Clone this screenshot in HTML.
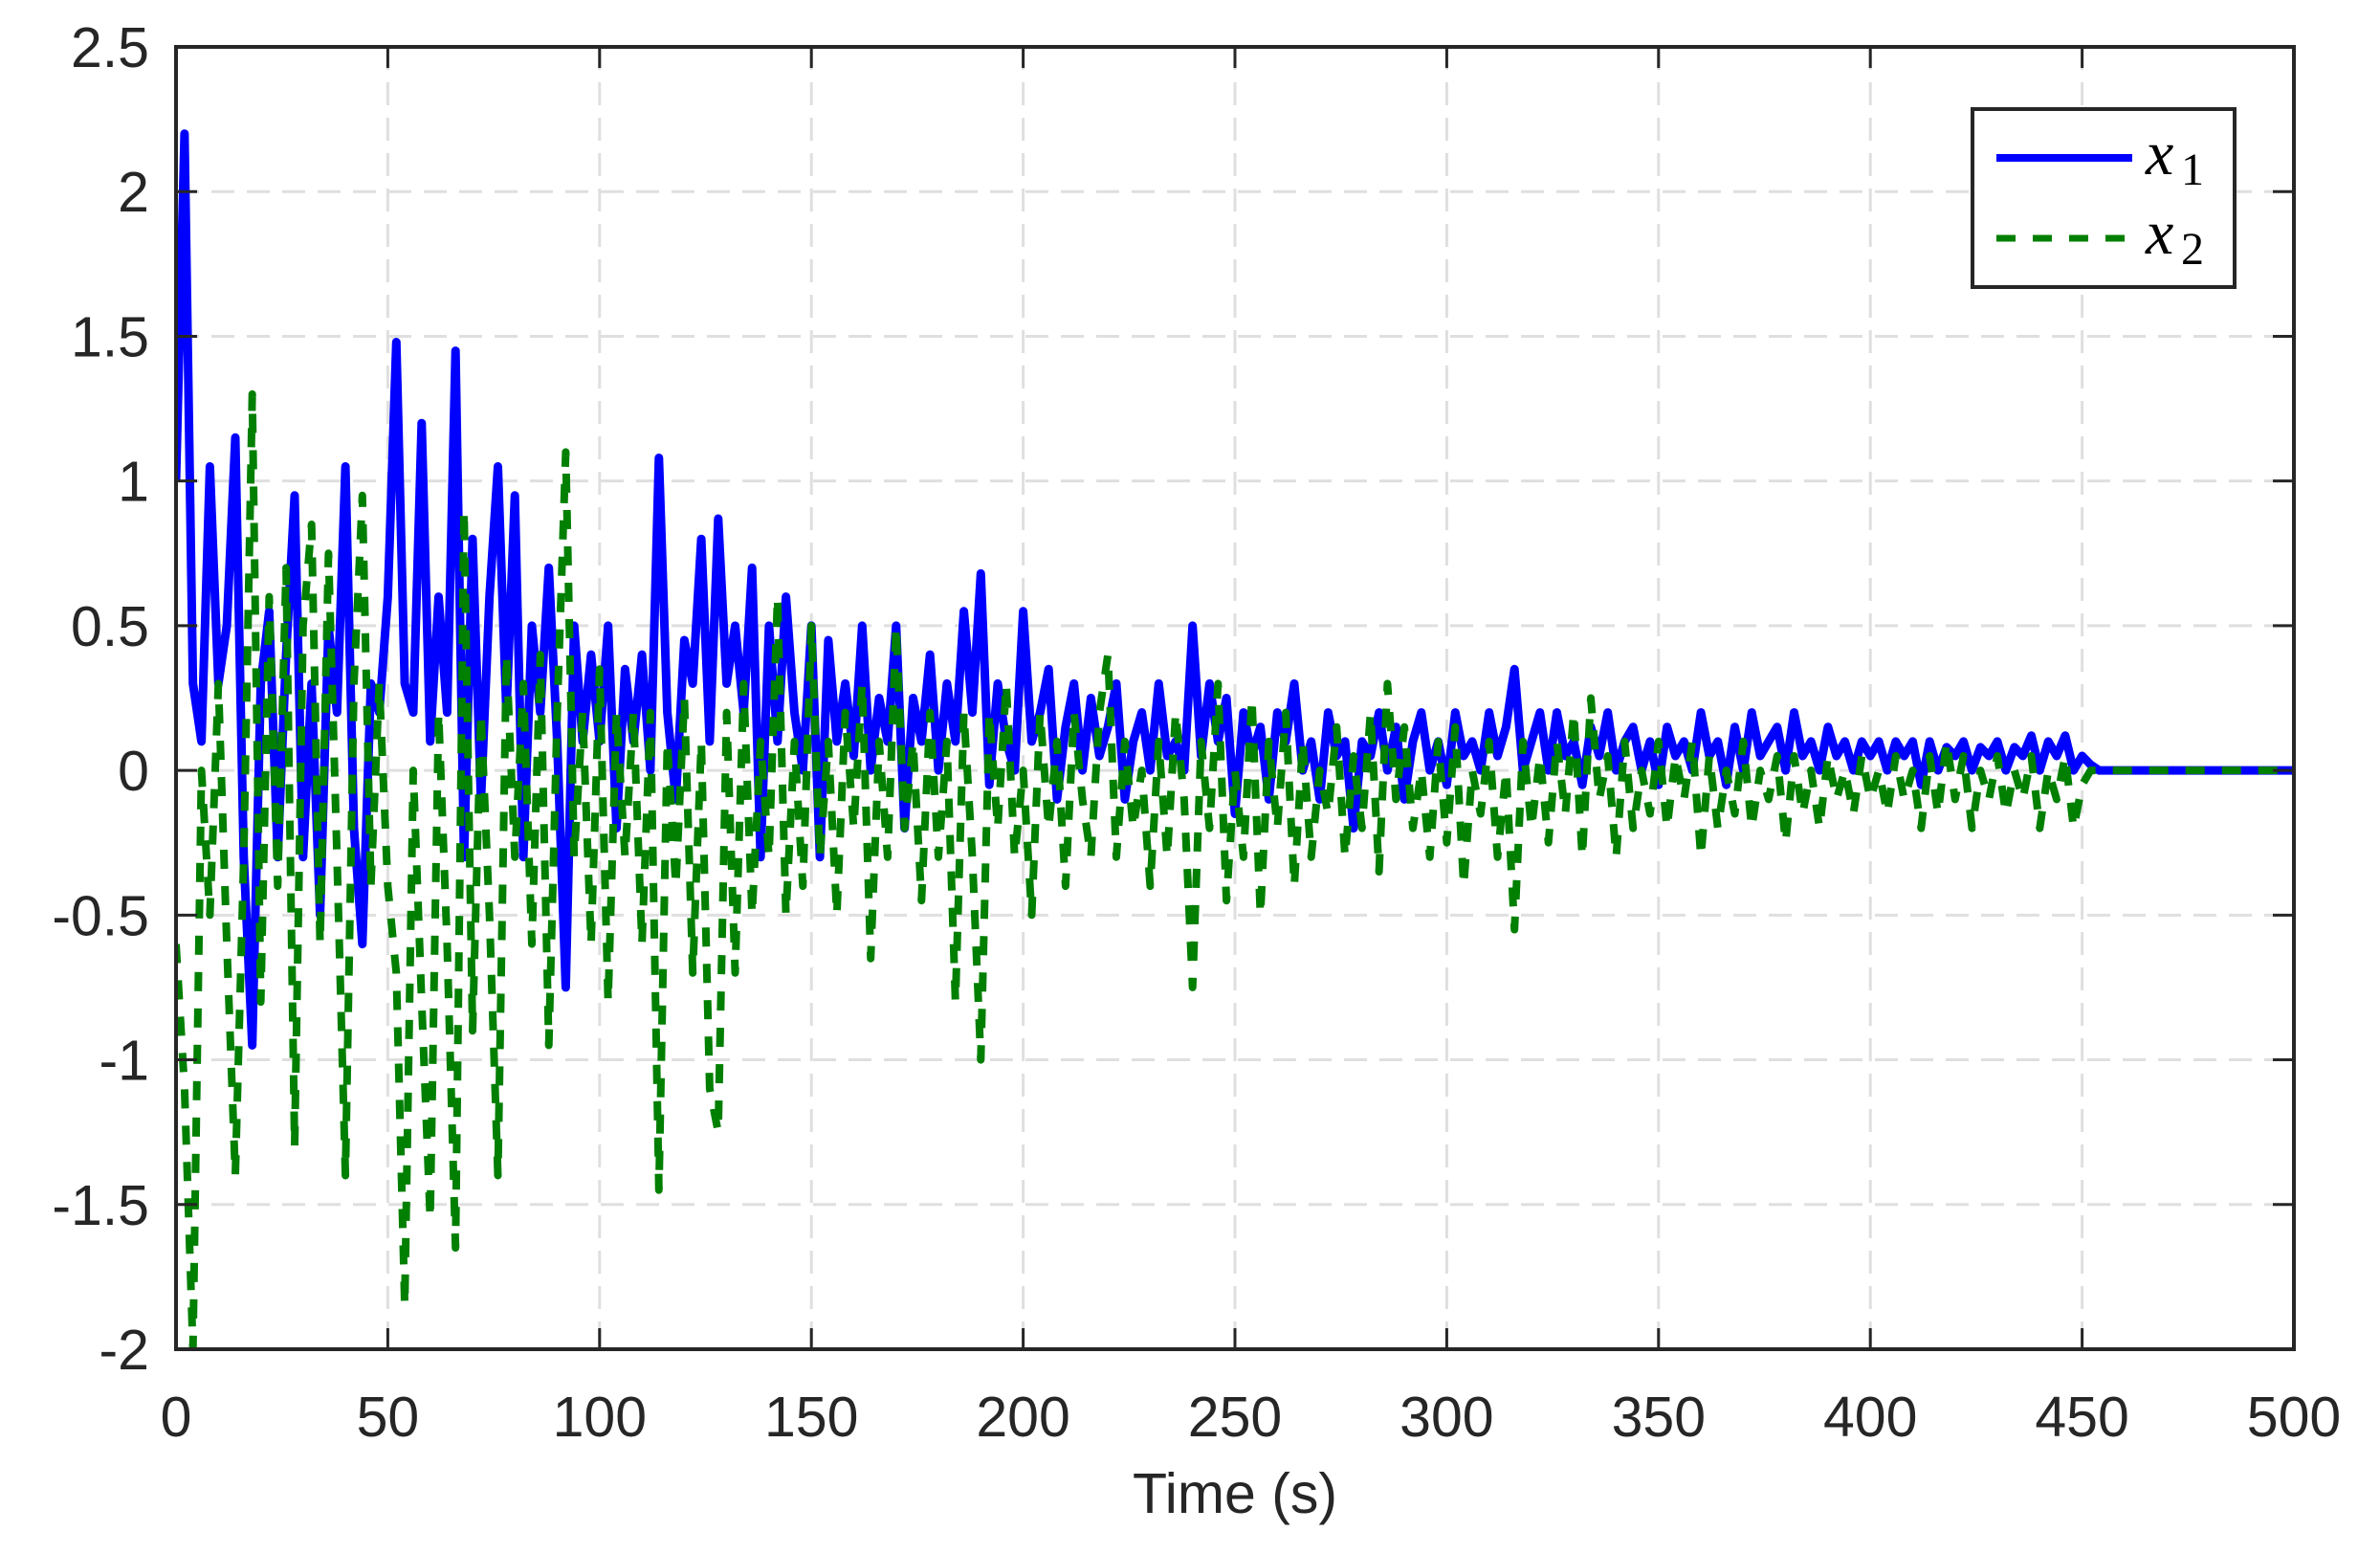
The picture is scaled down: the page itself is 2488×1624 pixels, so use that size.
<!DOCTYPE html>
<html><head><meta charset="utf-8"><style>
html,body{margin:0;padding:0;background:#fff;}
svg{display:block;}
text{font-family:"Liberation Sans",sans-serif;fill:#262626;}
</style></head><body>
<svg id="chart" width="2488" height="1624" viewBox="0 0 2488 1624" xmlns="http://www.w3.org/2000/svg">
<defs><clipPath id="plotclip"><rect x="184" y="49" width="2214" height="1361"/></clipPath></defs>
<rect x="0" y="0" width="2488" height="1624" fill="#fff"/>
<g id="grid"></g>
<g id="series" clip-path="url(#plotclip)"></g>
<g id="axes"></g>
<g id="legend">
  <rect x="2062" y="114" width="274" height="186" fill="#fff" stroke="#262626" stroke-width="4"/>
  <line x1="2087" y1="165" x2="2229" y2="165" stroke="#0000ff" stroke-width="8"/>
  <line x1="2087" y1="249" x2="2229" y2="249" stroke="#007f00" stroke-width="7" stroke-dasharray="20,18"/>
  <text x="2243" y="182" style="font-family:'Liberation Serif',serif;font-style:italic;font-size:66px;fill:#000">x<tspan x="2280" y="193" style="font-style:normal;font-size:48px">1</tspan></text>
  <text x="2243" y="265" style="font-family:'Liberation Serif',serif;font-style:italic;font-size:66px;fill:#000">x<tspan x="2280" y="276" style="font-style:normal;font-size:48px">2</tspan></text>
</g>
</svg>
<script>
const xTicks = [0,50,100,150,200,250,300,350,400,450,500];
const yTicks = [2.5,2,1.5,1,0.5,0,-0.5,-1,-1.5,-2];
const yTickLabels = ["2.5","2","1.5","1","0.5","0","-0.5","-1","-1.5","-2"];
const tStart = 0;
const tStep = 2;
const tEnd = 500;
const x1Values = [1.0,2.2,0.3,0.1,1.05,0.3,0.5,1.15,-0.3,-0.95,0.3,0.55,-0.3,0.4,0.95,-0.3,0.3,-0.5,0.5,0.2,1.05,-0.2,-0.6,0.3,0.2,0.6,1.48,0.3,0.2,1.2,0.1,0.6,0.2,1.45,-0.3,0.8,-0.1,0.6,1.05,0.2,0.95,-0.3,0.5,0.2,0.7,0.1,-0.75,0.5,0.1,0.4,0.1,0.5,-0.2,0.35,0.1,0.4,0.0,1.08,0.2,-0.1,0.45,0.3,0.8,0.1,0.87,0.3,0.5,0.2,0.7,-0.3,0.5,0.1,0.6,0.2,0.0,0.5,-0.3,0.45,0.1,0.3,0.05,0.5,0.0,0.25,0.1,0.5,-0.2,0.25,0.1,0.4,0.0,0.3,0.1,0.55,0.2,0.68,-0.05,0.3,0.1,0.0,0.55,0.1,0.2,0.35,-0.1,0.15,0.3,0.0,0.25,0.05,0.15,0.3,-0.1,0.1,0.2,0.0,0.3,0.05,0.1,0.0,0.5,0.05,0.3,0.1,0.25,-0.15,0.2,0.05,0.15,-0.1,0.2,0.1,0.3,0.0,0.1,-0.1,0.2,0.05,0.1,-0.2,0.1,0.05,0.2,0.0,0.15,-0.1,0.1,0.2,0.0,0.1,-0.05,0.2,0.05,0.1,0.0,0.2,0.05,0.15,0.35,0.0,0.1,0.2,0.0,0.2,0.05,0.1,-0.05,0.15,0.05,0.2,0.0,0.1,0.15,0.0,0.1,-0.05,0.15,0.05,0.1,0.0,0.2,0.05,0.1,-0.05,0.15,0.0,0.2,0.05,0.1,0.15,0.0,0.2,0.05,0.1,0.0,0.15,0.05,0.1,0.0,0.1,0.05,0.1,0.0,0.1,0.05,0.1,-0.05,0.1,0.0,0.08,0.05,0.1,0.0,0.08,0.05,0.1,0.0,0.08,0.05,0.12,0.0,0.1,0.05,0.12,0.0,0.05,0.02,0.0];
const x2Values = [-0.6,-1.1,-2.0,0.0,-0.5,0.3,-0.6,-1.4,-0.3,1.3,-0.8,0.6,-0.4,0.7,-1.3,0.5,0.85,-0.6,0.75,-0.3,-1.4,0.3,0.95,-0.4,0.3,-0.4,-0.7,-1.85,0.0,-0.8,-1.55,0.2,-0.6,-1.65,0.9,-0.9,0.2,-0.5,-1.4,0.4,-0.3,0.3,-0.6,0.4,-0.95,0.2,1.1,-0.3,0.2,-0.6,0.35,-0.8,0.2,-0.3,0.2,-0.6,0.2,-1.45,0.1,-0.4,0.25,-0.7,0.1,-1.1,-1.25,0.2,-0.7,0.3,-0.5,0.1,-0.3,0.6,-0.5,0.1,-0.4,0.5,-0.3,0.1,-0.5,0.2,-0.2,0.3,-0.65,0.1,-0.3,0.5,-0.2,0.1,-0.45,0.2,-0.3,0.1,-0.8,0.2,-0.3,-1.0,0.2,-0.2,0.3,-0.3,0.0,-0.5,0.2,-0.2,0.1,-0.4,0.2,-0.1,-0.3,0.2,0.4,-0.3,0.1,-0.2,0.0,-0.4,0.1,-0.3,0.2,-0.1,-0.75,0.1,-0.2,0.3,-0.45,0.0,-0.3,0.25,-0.5,0.1,-0.2,0.2,-0.4,0.1,-0.3,0.0,-0.15,0.15,-0.3,0.05,-0.2,0.2,-0.35,0.3,-0.1,0.15,-0.2,0.0,-0.3,0.1,-0.25,0.15,-0.4,0.0,-0.15,0.1,-0.3,0.0,-0.55,0.1,-0.2,0.05,-0.25,0.1,-0.15,0.2,-0.3,0.25,-0.1,0.05,-0.3,0.1,-0.2,0.0,-0.15,0.1,-0.2,0.05,-0.1,0.1,-0.3,0.05,-0.2,0.0,-0.15,0.1,-0.2,0.0,-0.1,0.05,-0.25,0.05,-0.15,0.0,-0.2,0.05,-0.1,0.0,-0.15,0.05,-0.1,0.0,-0.15,0.05,-0.1,0.0,-0.2,0.05,-0.15,0.1,-0.1,0.05,-0.2,0.0,-0.1,0.05,-0.15,0.0,-0.1,0.05,-0.2,0.0,-0.1,0.05,-0.2,-0.05,0.0,0.0];

const NS = "http://www.w3.org/2000/svg";
const L = 184, R = 2398, T = 49, B = 1410;
const xMin = 0, xMax = 500, yMin = -2, yMax = 2.5;
function xs(v){ return L + (v - xMin) / (xMax - xMin) * (R - L); }
function ys(v){ return B - (v - yMin) / (yMax - yMin) * (B - T); }
function mk(tag, attrs, parent){
  const e = document.createElementNS(NS, tag);
  for (const k in attrs) e.setAttribute(k, attrs[k]);
  parent.appendChild(e);
  return e;
}
const grid = document.getElementById('grid');
const axes = document.getElementById('axes');
const series = document.getElementById('series');

xTicks.forEach(function(t){
  const X = xs(t);
  if (t > xMin && t < xMax) {
    const g = mk('line', {x1:X, y1:T, x2:X, y2:B, stroke:'#dfdfdf', 'stroke-width':3, 'stroke-dasharray':'24,13'}, grid);
    
    
  }
  const tk1 = mk('line', {x1:X, y1:B, x2:X, y2:B-22, stroke:'#262626', 'stroke-width':3}, axes);
  
  
  const tk2 = mk('line', {x1:X, y1:T, x2:X, y2:T+22, stroke:'#262626', 'stroke-width':3}, axes);
  
  
  const lb = mk('text', {x:X, y:1501, 'text-anchor':'middle', 'font-size':'59px'}, axes);
  lb.textContent = String(t);
  
  
});
yTicks.forEach(function(v, i){
  const Y = ys(v);
  if (v > yMin && v < yMax) {
    const g = mk('line', {x1:L, y1:Y, x2:R, y2:Y, stroke:'#dfdfdf', 'stroke-width':3, 'stroke-dasharray':'24,13'}, grid);
    
    
  }
  const tk1 = mk('line', {x1:L, y1:Y, x2:L+22, y2:Y, stroke:'#262626', 'stroke-width':3}, axes);
  
  
  const tk2 = mk('line', {x1:R, y1:Y, x2:R-22, y2:Y, stroke:'#262626', 'stroke-width':3}, axes);
  
  
  const lb = mk('text', {x:156, y:Y+21, 'text-anchor':'end', 'font-size':'59px'}, axes);
  lb.textContent = yTickLabels[i];
  
  
});
const frame = mk('rect', {x:L, y:T, width:R-L, height:B-T, fill:'none', stroke:'#262626', 'stroke-width':4}, axes);


const xt = mk('text', {x:(L+R)/2, y:1581, 'text-anchor':'middle', 'font-size':'59px'}, axes);
xt.textContent = 'Time (s)';



function pathFor(vals){
  let d = '';
  vals.forEach(function(v, i){
    const t = tStart + i * tStep;
    d += (i === 0 ? 'M' : 'L') + xs(t).toFixed(1) + ',' + ys(v).toFixed(1);
  });
  d += 'L' + xs(tEnd).toFixed(1) + ',' + ys(0).toFixed(1);
  return d;
}
const p1 = mk('path', {d:pathFor(x1Values), fill:'none', stroke:'#0000ff', 'stroke-width':9, 'stroke-linejoin':'round'}, series);


const p2 = mk('path', {d:pathFor(x2Values), fill:'none', stroke:'#007f00', 'stroke-width':8, 'stroke-dasharray':'20,18', 'stroke-linejoin':'round'}, series);


</script>
</body></html>
